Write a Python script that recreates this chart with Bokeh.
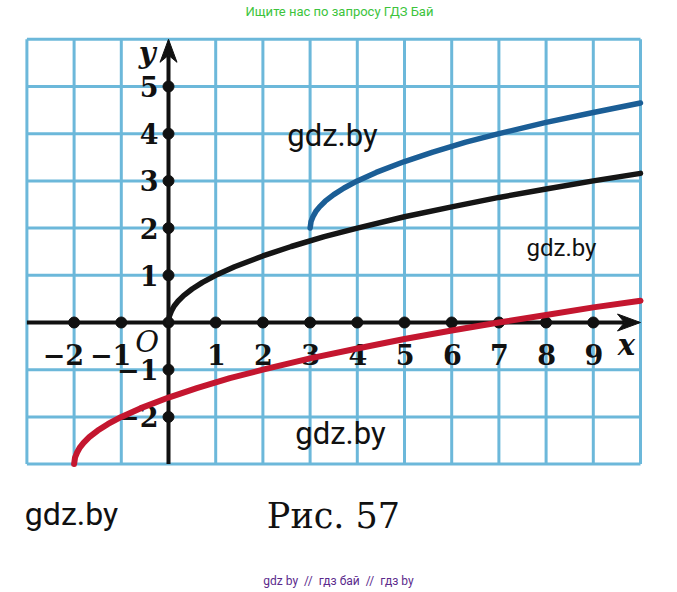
from bokeh.plotting import figure
from bokeh.models import Label, ColumnDataSource
from bokeh.core.properties import value
from bokeh.embed import file_html
from bokeh.resources import INLINE

# ---- data ----
x_ticks = [-2, -1, 1, 2, 3, 4, 5, 6, 7, 8, 9]
x_tick_labels = ["\u22122", "\u22121", "1", "2", "3", "4", "5", "6", "7", "8", "9"]
y_ticks = [-2, -1, 1, 2, 3, 4, 5]
y_tick_labels = ["\u22122", "\u22121", "1", "2", "3", "4", "5"]

black_x = [0, 0.02, 0.06, 0.12, 0.2, 0.32, 0.5, 0.72, 1, 1.4, 2, 2.6, 3.3, 4, 5, 6, 7, 8, 9, 10]
black_y = [0, 0.14, 0.24, 0.35, 0.45, 0.57, 0.71, 0.85, 1, 1.18, 1.41, 1.61, 1.82, 2, 2.24, 2.45, 2.65, 2.83, 3, 3.16]

blue_x = [3, 3.02, 3.06, 3.12, 3.2, 3.32, 3.5, 3.72, 4, 4.4, 5, 5.6, 6.3, 7, 8, 9, 10]
blue_y = [2, 2.14, 2.24, 2.35, 2.45, 2.57, 2.71, 2.85, 3, 3.18, 3.41, 3.61, 3.82, 4, 4.24, 4.45, 4.65]

red_x = [-2, -1.98, -1.94, -1.88, -1.8, -1.68, -1.5, -1.28, -1, -0.6, 0, 0.6, 1.3, 2, 3, 4, 5, 6, 7, 8, 9, 10]
red_y = [-3, -2.86, -2.76, -2.65, -2.55, -2.43, -2.29, -2.15, -2, -1.82, -1.59, -1.39, -1.18, -1, -0.76, -0.55, -0.35, -0.17, 0, 0.16, 0.32, 0.46]

grid_x = list(range(-3, 11))
grid_y = list(range(-3, 7))

# ---- layout ----
W, H = 661, 588
U = 47.2            # pixels per unit
OX, OY = 168, 322   # origin in figure pixels (from top-left)
x_start, x_end = -OX / U, (W - OX) / U
y_end, y_start = OY / U, (OY - H) / U

p = figure(width=W, height=H, x_range=(x_start, x_end), y_range=(y_start, y_end),
           x_axis_type=None, y_axis_type=None, toolbar_location=None,
           output_backend="svg", min_border=0)
p.outline_line_color = None
p.background_fill_color = "white"
p.border_fill_color = "white"

GRID = "#6cb8da"
xmin, xmax = grid_x[0], grid_x[-1]
ymin, ymax = grid_y[0], grid_y[-1]

# grid
p.segment(x0=grid_x, y0=[ymin] * len(grid_x), x1=grid_x, y1=[ymax] * len(grid_x),
          line_color=GRID, line_width=3)
p.segment(x0=[xmin] * len(grid_y), y0=grid_y, x1=[xmax] * len(grid_y), y1=grid_y,
          line_color=GRID, line_width=3)

# axes
AL, AW, AN = 23 / U, 8.5 / U, 16 / U
p.line([xmin, xmax - AN], [0, 0], line_color="#111111", line_width=4)
p.line([0, 0], [ymin, ymax - AN], line_color="#111111", line_width=4)
p.patch([xmax, xmax - AL, xmax - AN, xmax - AL], [0, AW, 0, -AW], color="#111111")
p.patch([0, AW, 0, -AW], [ymax, ymax - AL, ymax - AN, ymax - AL], color="#111111")

# tick dots
p.scatter(x_ticks + [0], [0] * (len(x_ticks) + 1), size=11, color="#111111")
p.scatter([0] * len(y_ticks), y_ticks, size=11, color="#111111")

# tick labels
FONT = value("DejaVu Serif")
xs = ColumnDataSource(dict(x=[t + 10 / U for t in x_ticks], y=[-0.68] * len(x_ticks), t=x_tick_labels))
p.text(x="x", y="y", text="t", source=xs, text_font=FONT, text_font_style="bold",
       text_font_size="27px", text_align="right", text_baseline="middle", text_color="#111111")
ys = ColumnDataSource(dict(x=[-10 / U] * len(y_ticks), y=y_ticks, t=y_tick_labels))
p.text(x="x", y="y", text="t", source=ys, text_font=FONT, text_font_style="bold",
       text_font_size="27px", text_align="right", text_baseline="middle", text_color="#111111")

p.add_layout(Label(x=-0.45, y=-0.42, text="O", text_font="DejaVu Serif", text_font_style="italic",
                   text_font_size="29px", text_align="center", text_baseline="middle", text_color="#111111"))
p.add_layout(Label(x=9.70, y=-0.47, text="x", text_font="DejaVu Serif", text_font_style="bold italic",
                   text_font_size="29px", text_align="center", text_baseline="middle", text_color="#111111"))
p.add_layout(Label(x=-0.45, y=5.72, text="y", text_font="DejaVu Serif", text_font_style="bold italic",
                   text_font_size="29px", text_align="center", text_baseline="middle", text_color="#111111"))

# curves
p.line(black_x, black_y, line_color="#151515", line_width=5.5, line_cap="round")
p.line(blue_x, blue_y, line_color="#1b5e96", line_width=5.5, line_cap="round")
p.line(red_x, red_y, line_color="#c4162f", line_width=6, line_cap="round")

# page texts (screen units)
def sx(px):
    return px

def sy(py):
    return H - py

def lab(px, py, text, font, size, color, style="normal"):
    p.add_layout(Label(x=sx(px), y=sy(py), x_units="screen", y_units="screen", text=text,
                       text_font=font, text_font_size=size, text_color=color, text_font_style=style,
                       text_align="center", text_baseline="middle"))

NB = "\u00a0"
lab(339, 11, "Ищите нас по запросу ГДЗ Бай", "Roboto", "13px", "#3cc43c")
lab(332, 135, "gdz.by", "Roboto", "31px", "#111111")
lab(561, 247, "gdz.by", "Roboto", "24px", "#111111")
lab(340, 433, "gdz.by", "Roboto", "31px", "#111111")
lab(71, 513, "gdz.by", "Roboto", "32px", "#111111")
lab(333, 515, "Рис. 57", "DejaVu Serif", "35px", "#111111")
lab(338, 580, f"gdz{NB}by{NB}{NB}//{NB}{NB}гдз{NB}бай{NB}{NB}//{NB}{NB}гдз{NB}by", "Roboto", "12px", "#5b2a8c")

open("out.html", "w").write(file_html(p, INLINE))
